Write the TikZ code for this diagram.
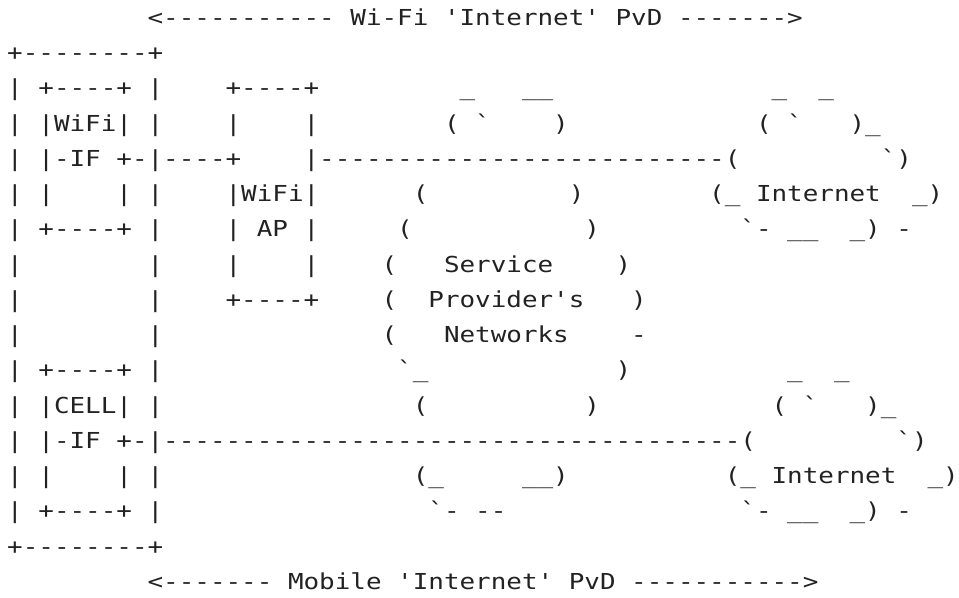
\documentclass[tikz,border=0pt]{standalone}
\usepackage{fontspec}
\setmonofont[FakeStretch=1.178]{DejaVu Sans Mono}
\definecolor{ink}{HTML}{222222}
\tikzset{txt/.style={anchor=base west,inner sep=0pt,outer sep=0pt,text=ink,
  font=\ttfamily\fontsize{11pt}{13pt}\selectfont}}
\newcommand\seg[3]{\node[txt] (r#1c#2) at ({7.2+15.6*#2},{25.5+35.25*#1}) {#3};}
\begin{document}
\begin{tikzpicture}[x=0.5pt,y=-0.5pt]
\useasboundingbox (0,0) rectangle (959,598);
% row 0
\seg{0}{9}{<-----------}\seg{0}{22}{Wi-Fi}\seg{0}{28}{'Internet'}\seg{0}{39}{PvD}\seg{0}{43}{------->}
% row 1
\seg{1}{0}{+--------+}
% row 2
\seg{2}{0}{|}\seg{2}{2}{+----+}\seg{2}{9}{|}\seg{2}{14}{+----+}\seg{2}{29}{\_}\seg{2}{33}{\_\_}\seg{2}{49}{\_}\seg{2}{52}{\_}
% row 3
\seg{3}{0}{|}\seg{3}{2}{|WiFi|}\seg{3}{9}{|}\seg{3}{14}{|}\seg{3}{19}{|}\seg{3}{28}{(}\seg{3}{30}{`}\seg{3}{35}{)}\seg{3}{48}{(}\seg{3}{50}{`}\seg{3}{54}{)\_}
% row 4
\seg{4}{0}{|}\seg{4}{2}{|-IF}\seg{4}{7}{+-|----+}\seg{4}{19}{|--------------------------(}\seg{4}{56}{`)}
% row 5
\seg{5}{0}{|}\seg{5}{2}{|}\seg{5}{7}{|}\seg{5}{9}{|}\seg{5}{14}{|WiFi|}\seg{5}{26}{(}\seg{5}{36}{)}\seg{5}{45}{(\_}\seg{5}{48}{Internet}\seg{5}{58}{\_)}
% row 6
\seg{6}{0}{|}\seg{6}{2}{+----+}\seg{6}{9}{|}\seg{6}{14}{|}\seg{6}{16}{AP}\seg{6}{19}{|}\seg{6}{25}{(}\seg{6}{37}{)}\seg{6}{47}{`-}\seg{6}{50}{\_\_}\seg{6}{54}{\_)}\seg{6}{57}{-}
% row 7
\seg{7}{0}{|}\seg{7}{9}{|}\seg{7}{14}{|}\seg{7}{19}{|}\seg{7}{24}{(}\seg{7}{28}{Service}\seg{7}{39}{)}
% row 8
\seg{8}{0}{|}\seg{8}{9}{|}\seg{8}{14}{+----+}\seg{8}{24}{(}\seg{8}{27}{Provider's}\seg{8}{40}{)}
% row 9
\seg{9}{0}{|}\seg{9}{9}{|}\seg{9}{24}{(}\seg{9}{28}{Networks}\seg{9}{40}{-}
% row 10
\seg{10}{0}{|}\seg{10}{2}{+----+}\seg{10}{9}{|}\seg{10}{25}{`\_}\seg{10}{39}{)}\seg{10}{50}{\_}\seg{10}{53}{\_}
% row 11
\seg{11}{0}{|}\seg{11}{2}{|CELL|}\seg{11}{9}{|}\seg{11}{26}{(}\seg{11}{37}{)}\seg{11}{49}{(}\seg{11}{51}{`}\seg{11}{55}{)\_}
% row 12
\seg{12}{0}{|}\seg{12}{2}{|-IF}\seg{12}{7}{+-|-------------------------------------(}\seg{12}{57}{`)}
% row 13
\seg{13}{0}{|}\seg{13}{2}{|}\seg{13}{7}{|}\seg{13}{9}{|}\seg{13}{26}{(\_}\seg{13}{33}{\_\_)}\seg{13}{46}{(\_}\seg{13}{49}{Internet}\seg{13}{59}{\_)}
% row 14
\seg{14}{0}{|}\seg{14}{2}{+----+}\seg{14}{9}{|}\seg{14}{27}{`-}\seg{14}{30}{--}\seg{14}{47}{`-}\seg{14}{50}{\_\_}\seg{14}{54}{\_)}\seg{14}{57}{-}
% row 15
\seg{15}{0}{+--------+}
% row 16
\seg{16}{9}{<-------}\seg{16}{18}{Mobile}\seg{16}{25}{'Internet'}\seg{16}{36}{PvD}\seg{16}{40}{----------->}
\end{tikzpicture}
\end{document}
